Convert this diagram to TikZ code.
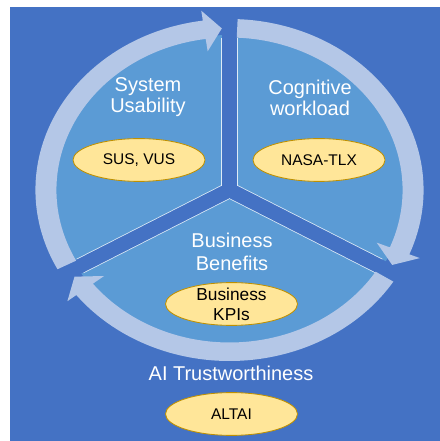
\documentclass[tikz,border=0pt]{standalone}
\usepackage{fontspec}
\setmainfont{Liberation Sans}
\usetikzlibrary{shapes.geometric}

\definecolor{bgblue}{HTML}{4472C4}
\definecolor{secblue}{HTML}{5B9BD5}
\definecolor{ringblue}{HTML}{B4C7E7}
\definecolor{ellfill}{HTML}{FFE699}
\definecolor{elldraw}{HTML}{BF9000}

\begin{document}
\begin{tikzpicture}
[
    x=0.025cm,y=0.025cm,
    area/.style={text=white,align=center,font=\fontsize{14.2}{15}\selectfont},
    metric/.style={ellipse,fill=ellfill,draw=elldraw,line width=0.6pt,
        minimum width=3.3cm,minimum height=1.07cm,inner sep=0pt,
        font=\fontsize{11}{13}\selectfont},
]
\useasboundingbox (0,0) rectangle (440,441);
% Blue box
\fill[bgblue] (10,0) rectangle (440,434);
% Wheel with three sectors
\begin{scope}[shift={(229.5,251)},xscale=1.135]
    \fill[secblue] (0,0) circle[radius=155];
    \foreach \g in {90,-30,210}
        \draw[white,opacity=0.8,line width=11.4pt] (0,0) -- (\g:152);
    \foreach \g in {90,-30,210}
        \draw[bgblue,line width=10.3pt] (0,0) -- (\g:157);
    % Ring arrows
    \foreach \s/\e [evaluate=\e as \h using \e+5.5] in {207.6/92.4,87.6/-27.6,-32.4/-147.6}
        \fill[ringblue] (\s:152.5) arc[start angle=\s,end angle=\h,radius=152.5]
            -- (\h:140) -- (\e:161.75) -- (\h:181) -- (\h:171)
            arc[start angle=\h,end angle=\s,radius=171] -- cycle;
\end{scope}
% Area labels
\node[area] (usab) at (148,343.5) {System\\Usability};
\node[area] (cogn) at (310,343.5) {Cognitive\\workload};
\node[area,font=\fontsize{14.2}{16.4}\selectfont] (bizb) at (232,189.5) {Business\\Benefits};
\node[area] (trust) at (231,68) {AI Trustworthiness};
% Metrics
\node[metric] (sus) at (139,281) {SUS, VUS};
\node[metric] (nasa) at (319,281) {NASA-TLX};
\node[metric] (kpi) at (231.5,137) {};
\node[align=center,inner sep=0pt,font=\fontsize{12.3}{14.2}\selectfont] (kpitext) at (kpi) {Business\\KPIs};
\node[metric] (altai) at (231.5,27) {ALTAI};
\end{tikzpicture}
\end{document}
